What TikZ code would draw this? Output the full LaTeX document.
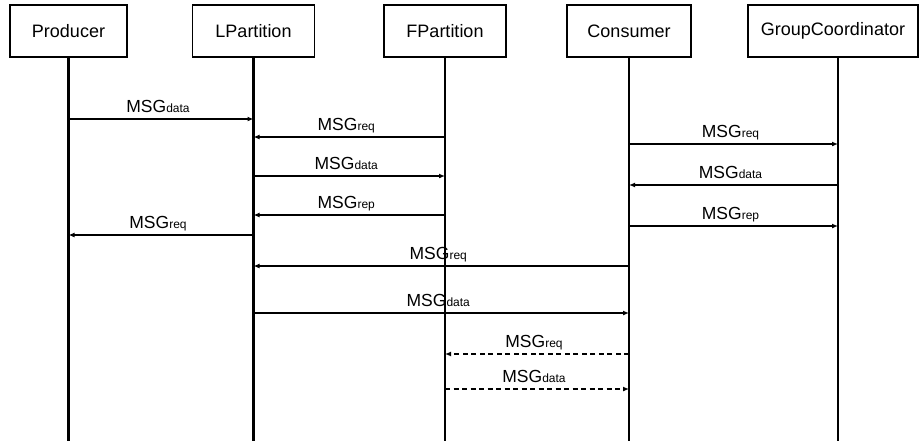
\documentclass[tikz,border=0pt]{standalone}
\usepackage{fontspec}
\setmainfont{Liberation Sans}
\usetikzlibrary{arrows.meta}
\newcommand{\msgl}[1]{MSG{\fontsize{12}{12}\selectfont #1}}
\begin{document}
\begin{tikzpicture}[x=1pt,y=-1pt,
  actor/.style={draw,line width=1.4pt,minimum height=52pt,inner sep=0pt,font=\fontsize{18}{20}\selectfont},
  life/.style={line width=2.2pt},
  msgline/.style={line width=1.4pt,-{Latex[length=6pt,width=5pt]}},
  dmsg/.style={msgline,dash pattern=on 5pt off 3.5pt},
  lbl/.style={midway,anchor=base,xshift=-3pt,yshift=7pt,inner sep=0pt,font=\fontsize{17.5}{19}\selectfont}]
\useasboundingbox (0,0) rectangle (919,445);
\fill[white] (0,0) rectangle (919,445);
\node[actor,minimum width=117pt] (P) at (68.5,31) {Producer};
\node[actor,minimum width=122pt] (L) at (253.5,31) {LPartition};
\node[actor,minimum width=122pt] (F) at (445,31) {FPartition};
\node[actor,minimum width=124pt] (C) at (629,31) {Consumer};
\node[actor,minimum width=170pt] (G) at (833,31) {GroupCoordinator};
% lifelines
\coordinate (Pe) at (P.south |- 0,441);
\coordinate (Le) at (L.south |- 0,441);
\coordinate (Fe) at (F.south |- 0,441);
\coordinate (Ce) at (C.south |- 0,441);
\coordinate (Gs) at ([xshift=5pt]G.south);
\coordinate (Ge) at (Gs |- 0,441);
\draw[life] (P.south) -- (Pe);
\draw[life] (L.south) -- (Le);
\draw[life] (F.south) -- (Fe);
\draw[life] (C.south) -- (Ce);
\draw[life] (Gs) -- (Ge);
% message end points
\foreach \n/\y in {1/119,2/137,3/176,4/215,5/235,6/144,7/185,8/226,9/266,10/313,11/354,12/389}{
  \coordinate (P\n) at (P.south |- 0,\y);
  \coordinate (L\n) at (L.south |- 0,\y);
  \coordinate (F\n) at (F.south |- 0,\y);
  \coordinate (C\n) at (C.south |- 0,\y);
  \coordinate (G\n) at (Gs |- 0,\y);
}
\draw[msgline] (P1) -- node[lbl]{\msgl{data}} (L1);
\draw[msgline] (F2) -- node[lbl]{\msgl{req}} (L2);
\draw[msgline] (L3) -- node[lbl]{\msgl{data}} (F3);
\draw[msgline] (F4) -- node[lbl]{\msgl{rep}} (L4);
\draw[msgline] (L5) -- node[lbl]{\msgl{req}} (P5);
\draw[msgline] (C6) -- node[lbl]{\msgl{req}} (G6);
\draw[msgline] (G7) -- node[lbl]{\msgl{data}} (C7);
\draw[msgline] (C8) -- node[lbl]{\msgl{rep}} (G8);
\draw[msgline] (C9) -- node[lbl]{\msgl{req}} (L9);
\draw[msgline] (L10) -- node[lbl]{\msgl{data}} (C10);
\draw[dmsg] (C11) -- node[lbl]{\msgl{req}} (F11);
\draw[dmsg] (F12) -- node[lbl]{\msgl{data}} (C12);
\end{tikzpicture}
\end{document}
